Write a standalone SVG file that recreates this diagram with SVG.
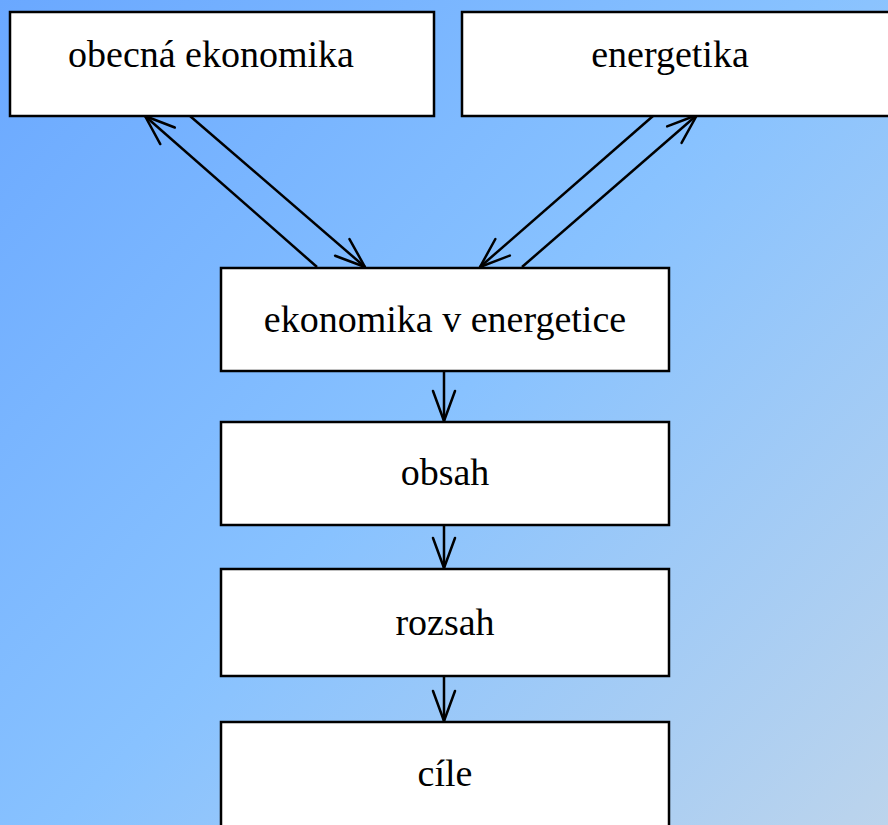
<svg xmlns="http://www.w3.org/2000/svg" width="888" height="825" viewBox="0 0 888 825">
<defs>
<linearGradient id="bg" x1="0" y1="0" x2="888" y2="825" gradientUnits="userSpaceOnUse">
<stop offset="0" stop-color="#6aa8ff"/>
<stop offset="0.5" stop-color="#88c2ff"/>
<stop offset="1" stop-color="#bcd4ec"/>
</linearGradient>
<marker id="ah" markerUnits="userSpaceOnUse" viewBox="-34 -14 36 28" refX="0" refY="0" markerWidth="36" markerHeight="28" orient="auto" overflow="visible">
<path d="M-30,-11 L0,0 L-30,11" fill="none" stroke="#000" stroke-width="2.5" stroke-linecap="round" stroke-linejoin="round"/>
</marker>
</defs>
<style>
.box{fill:#fff;stroke:#000;stroke-width:2.5}
.lbl{font-family:"Liberation Serif","Times New Roman",serif;font-size:38px;fill:#000;text-anchor:middle}
.con{stroke:#000;stroke-width:2.5;fill:none;marker-end:url(#ah)}
</style>
<rect x="0" y="0" width="888" height="825" fill="url(#bg)"/>
<g id="connectors">
<line class="con" x1="190" y1="116" x2="365" y2="267"/>
<line class="con" x1="317" y1="267" x2="145" y2="116"/>
<line class="con" x1="653" y1="116" x2="480" y2="267"/>
<line class="con" x1="522" y1="267" x2="697" y2="115"/>
<line class="con" x1="444" y1="371" x2="444" y2="421"/>
<line class="con" x1="444" y1="525" x2="444" y2="568"/>
<line class="con" x1="444" y1="676" x2="444" y2="721"/>
</g>
<g id="n1"><rect class="box" x="10" y="12" width="424" height="104"/><text class="lbl" x="211" y="67">obecná ekonomika</text></g>
<g id="n2"><rect class="box" x="462" y="12" width="432" height="104"/><text class="lbl" x="670" y="67">energetika</text></g>
<g id="n3"><rect class="box" x="221" y="268" width="448" height="103"/><text class="lbl" x="445" y="332">ekonomika v energetice</text></g>
<g id="n4"><rect class="box" x="221" y="422" width="448" height="103"/><text class="lbl" x="445" y="485">obsah</text></g>
<g id="n5"><rect class="box" x="221" y="569" width="448" height="107"/><text class="lbl" x="445" y="635">rozsah</text></g>
<g id="n6"><rect class="box" x="221" y="722" width="448" height="110"/><text class="lbl" x="445" y="786">cíle</text></g>
</svg>
